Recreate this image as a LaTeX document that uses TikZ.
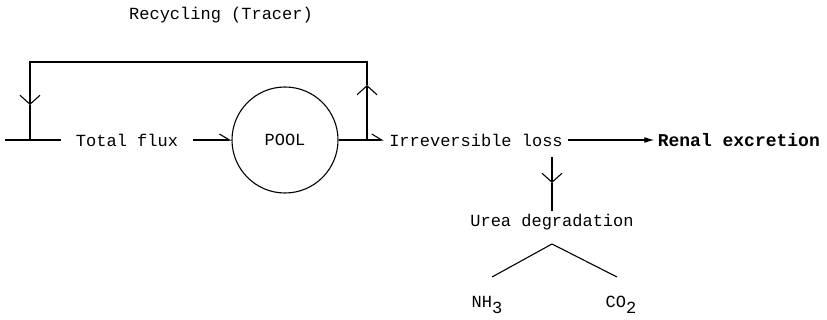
\documentclass[tikz,border=0pt]{standalone}
\usepackage{fontspec}
\newfontfamily\typer{Liberation Mono}
\usetikzlibrary{arrows.meta,positioning}

\begin{document}
\begin{tikzpicture}[
  x=1pt,y=-1pt,
  line width=1.1pt,
  txt/.style={font=\typer\fontsize{17}{20}\selectfont,inner xsep=5pt,inner ysep=3pt},
  vee/.style={-{Straight Barb[length=9pt,width=20pt]}},
  half/.style={-{Straight Barb[left,length=10pt,width=12pt]}}
]
  \useasboundingbox (0,0) rectangle (827,320);

  \node[txt] (title) at (221,15) {Recycling (Tracer)};
  \node[txt,inner xsep=14pt] (flux) at (127,140) {Total flux};
  \node[txt,draw,circle,inner sep=0pt,minimum size=106pt] (pool) at (285,140) {POOL};
  \node[txt] (loss) at (476,140) {Irreversible loss};
  \node[txt,font=\typer\bfseries\fontsize{18}{20}\selectfont,inner xsep=3pt,right=86pt of loss] (renal) {Renal excretion};
  \node[txt] (urea) at (552,222) {Urea degradation};
  \node[txt] (nh3) at (487,305) {NH\raisebox{-6pt}{3}};
  \node[txt] (co2) at (621,305) {CO\raisebox{-6pt}{2}};

  % main line
  \coordinate (in) at (5,140);
  \coordinate (jl) at (30,140);
  \coordinate (jr) at (367,140);
  \draw (in) -- (flux.west);
  \draw[half] (flux.east) -- (pool.west);
  \draw[half] (pool.east) -- (loss.west);

  % recycling loop
  \coordinate (upm) at (367,85);
  \coordinate (tr) at (367,62);
  \coordinate (tl) at (30,62);
  \coordinate (dnm) at (30,105);
  \draw[vee] (jr) -- (upm);
  \draw[vee] (upm) -- (tr) -- (tl) -- (dnm);
  \draw (dnm) -- (jl);

  % losses
  \draw[-{Latex[length=10pt,width=6pt]}] (loss.east) -- (renal.west);
  \coordinate (ls) at (552,157);
  \coordinate (lsm) at (552,183);
  \draw[vee] (ls) -- (lsm);
  \draw (lsm) -- (urea.north);

  % split
  \coordinate (apex) at (552,244);
  \coordinate (lend) at (492,277);
  \coordinate (rend) at (617,277);
  \draw (lend) -- (apex) -- (rend);
\end{tikzpicture}
\end{document}
